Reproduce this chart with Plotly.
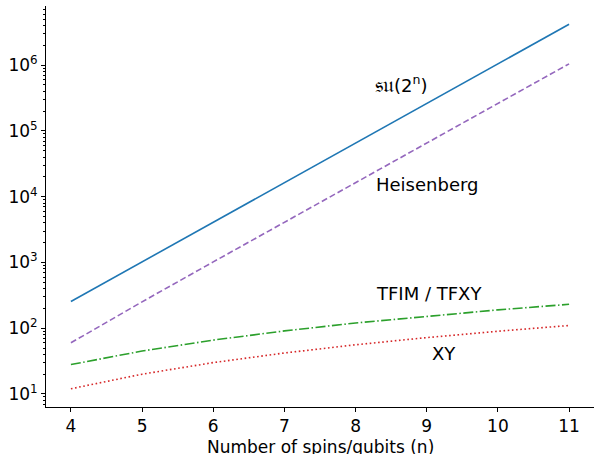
import plotly.graph_objects as go
import numpy as np

n = [4, 5, 6, 7, 8, 9, 10, 11]
su2n = [255, 1023, 4095, 16383, 65535, 262143, 1048575, 4194303]
heisenberg = [60, 252, 1020, 4092, 16380, 65532, 262140, 1048572]
tfim_tfxy = [28, 45, 66, 91, 120, 153, 190, 231]
xy = [12, 20, 30, 42, 56, 72, 90, 110]

ytick_vals = [10, 100, 1000, 10000, 100000, 1000000]
ytick_text = ["10<sup>1</sup>", "10<sup>2</sup>", "10<sup>3</sup>", "10<sup>4</sup>", "10<sup>5</sup>", "10<sup>6</sup>"]
minor_vals = [m * 10 ** e for e in range(0, 7) for m in range(2, 10)]
x_title = "Number of spins/qubits (n)"

font = "DejaVu Sans"
fig = go.Figure()
fig.add_trace(go.Scatter(x=n, y=su2n, mode="lines", line=dict(color="#1f77b4", width=1.6)))
fig.add_trace(go.Scatter(x=n, y=heisenberg, mode="lines", line=dict(color="#9467bd", width=1.6, dash="6px,3px")))
fig.add_trace(go.Scatter(x=n, y=tfim_tfxy, mode="lines", line=dict(color="#2ca02c", width=1.6, dash="10px,2.5px,1.5px,2.5px")))
fig.add_trace(go.Scatter(x=n, y=xy, mode="lines", line=dict(color="#d62728", width=1.6, dash="1.6px,2.6px")))

labels = [("<span style='font-size:22px'>𝔰𝔲</span>(2<sup>n</sup>)", 8.24, 10 ** 5.71), ("Heisenberg", 8.26, 10 ** 4.18),
          ("TFIM / TFXY", 8.26, 10 ** 2.535), ("XY", 9.04, 10 ** 1.62)]
for t, x, y in labels:
    fig.add_annotation(x=x, y=np.log10(y), text=t, showarrow=False, xanchor="left", yanchor="middle",
                       font=dict(size=18, color="black", family=font))

fig.add_annotation(x=0.5, y=-0.1, xref="paper", yref="paper", text=x_title, showarrow=False,
                   xanchor="center", yanchor="middle", font=dict(size=17, color="black", family=font))

fig.update_layout(
    width=594, height=454, showlegend=False,
    plot_bgcolor="white", paper_bgcolor="white",
    margin=dict(l=46, r=0, t=6, b=47),
    font=dict(family=font, size=17, color="black"),
)
fig.update_xaxes(range=[3.65, 11.35], tickvals=n, ticks="outside", ticklen=4, tickcolor="black",
                 showline=True, linecolor="black", linewidth=1, showgrid=False, zeroline=False,
                 automargin=False)
fig.update_yaxes(type="log", range=[0.802, 6.9], tickvals=ytick_vals, ticktext=ytick_text,
                 ticks="outside", ticklen=4, tickcolor="black", automargin=False,
                 minor=dict(tickvals=minor_vals, ticks="outside", ticklen=2, tickcolor="black"),
                 showline=True, linecolor="black", linewidth=1, showgrid=False, zeroline=False)
fig.write_html("out.html", config={"displayModeBar": False},
               post_script="document.body.style.margin='0';document.body.style.overflow='hidden';")
